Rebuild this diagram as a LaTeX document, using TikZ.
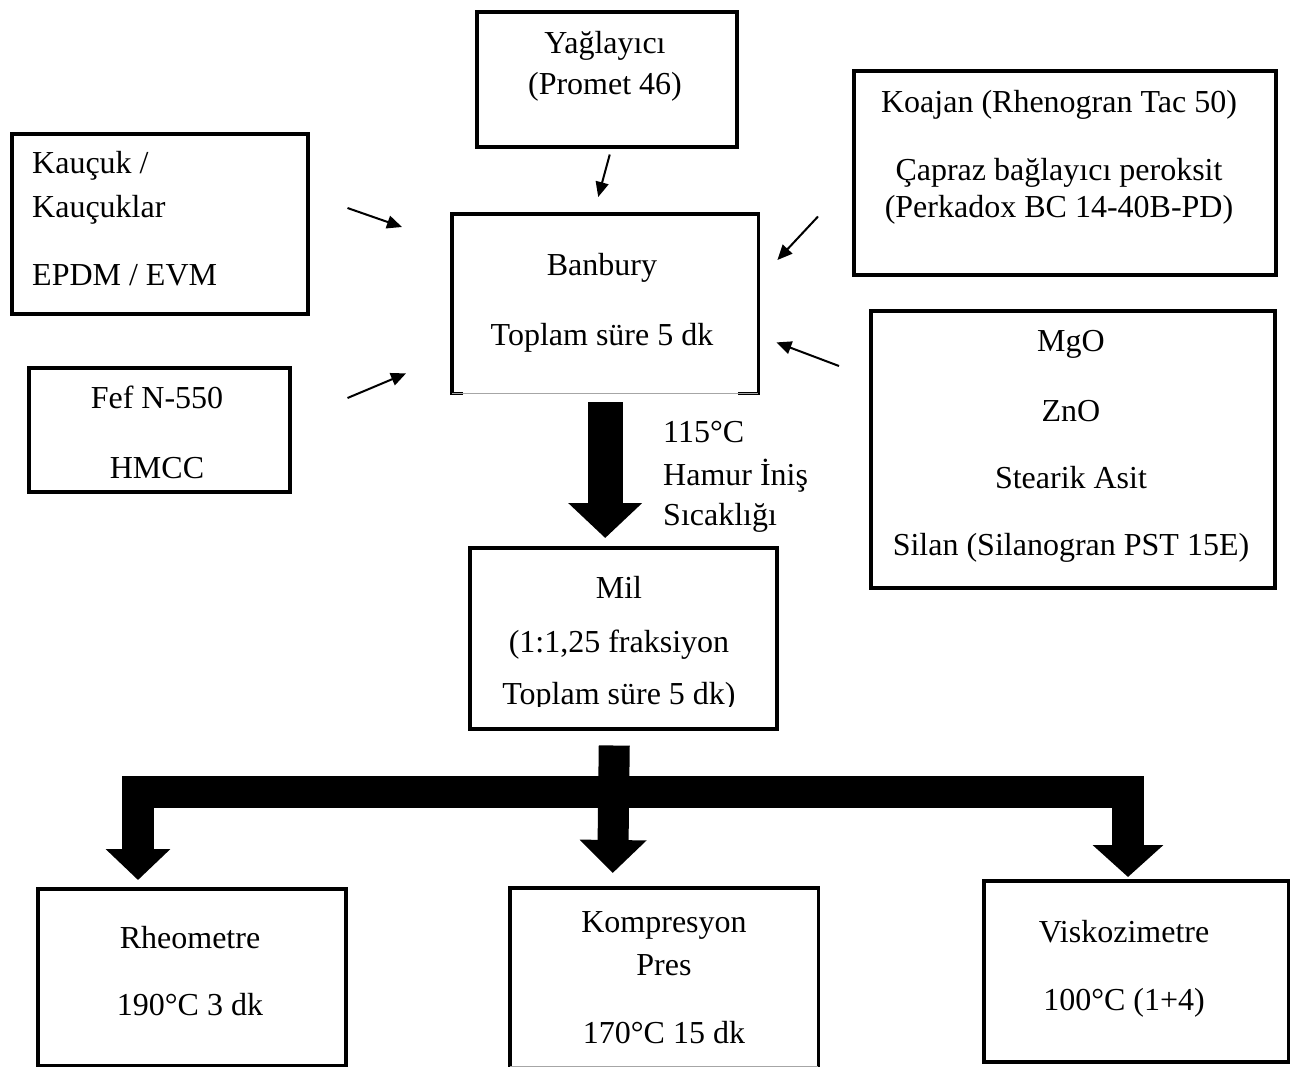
\documentclass[tikz,border=0pt]{standalone}
\usepackage{fontspec}
\setmainfont{Liberation Serif}
\usetikzlibrary{arrows.meta,positioning,calc}

\begin{document}
\begin{tikzpicture}[x=1pt,y=-1pt]
\tikzstyle{box}=[draw,line width=3.5pt,inner sep=0pt,anchor=north west]
\tikzstyle{openbox}=[inner sep=0pt,anchor=north west]
\tikzstyle{txt}=[align=center,inner sep=0pt,anchor=north,font=\fontsize{32}{40}\selectfont]
\tikzstyle{feed}=[line width=2pt,-{Triangle[length=15pt,width=13pt]}]
\tikzstyle{fat}=[line width=32pt,line join=miter]

\useasboundingbox (0,0) rectangle (1290,1066);

\node[box,minimum width=260pt,minimum height=135pt] (yag) at (475,10) {};
\node[box,minimum width=296pt,minimum height=180pt] (kau) at (10,132) {};
\node[box,minimum width=422pt,minimum height=204pt] (koa) at (852,69) {};
\node[openbox,minimum width=306pt,minimum height=179pt] (ban) at (452,214) {};
\node[box,minimum width=404pt,minimum height=277pt] (mgo) at (869,309) {};
\node[box,minimum width=261pt,minimum height=124pt] (fef) at (27,366) {};
\node[box,minimum width=307pt,minimum height=181pt] (mil) at (468,546) {};
\node[box,minimum width=308pt,minimum height=177pt] (rheo) at (36,887) {};
\node[openbox,minimum width=308pt,minimum height=184pt] (komp) at (510,888) {};
\node[box,minimum width=305pt,minimum height=181pt] (visk) at (982,879) {};

\draw[line width=3.5pt] ($(ban.south west)+(11,0)$) -- (ban.south west) -- (ban.north west)
  -- (ban.north east) -- (ban.south east) -- ++(-20,0);
\draw[gray!70,line width=1pt] (ban.south west) -- (ban.south east);
\draw[line width=3.5pt] (komp.south west) -- (komp.north west) -- (komp.north east) -- (komp.south east);
\draw[gray!70,line width=1pt] ($(komp.south west)+(0,-6)$) -- ($(komp.south east)+(0,-6)$);

\node[txt] (yagT) at (605,25) {\strut Yağlayıcı\\[1pt](Promet 46)};
\node[txt,align=left,anchor=north west] (kauT) at (32,145) {\strut Kauçuk /\\[4pt]Kauçuklar\\[28pt]EPDM / EVM};
\node[txt] (koaT) at (1059,84) {\strut Koajan (Rhenogran Tac 50)\\[28pt]Çapraz bağlayıcı peroksit\\[-3pt](Perkadox BC 14-40B-PD)};
\node[txt] (banT) at (602,247) {\strut Banbury\\[30pt]Toplam süre 5 dk};
\node[txt] (mgoT) at (1071,323) {\strut MgO\\[30pt]ZnO\\[27pt]Stearik Asit\\[27pt]Silan (Silanogran PST 15E)};
\node[txt] (fefT) at (157,380) {\strut Fef N-550\\[30pt]HMCC};
\begin{scope}
\clip (400,540) rectangle (800,706);
\node[txt] (milT) at (619,570) {\strut Mil\\[14pt](1:1,25 fraksiyon\\[12pt]Toplam süre 5 dk)};
\end{scope}
\begin{scope}
\clip (640,400) rectangle (840,533);
\node[txt,align=left,anchor=north west] (tempT) at (663,414) {\strut 115°C\\[3pt]Hamur İniş\\Sıcaklığı};
\end{scope}
\node[txt] (rheoT) at (190,920) {\strut Rheometre\\[27pt]190°C 3 dk};
\node[txt] (kompT) at (664,904) {\strut Kompresyon\\[3pt]Pres\\[28pt]170°C 15 dk};
\node[txt] (viskT) at (1124,914) {\strut Viskozimetre\\[28pt]100°C (1+4)};

\draw[feed] ($(kau.north east)+(38,76)$) -- ($(ban.north west)+(-50,13)$);
\draw[feed] ($(fef.north east)+(56,32)$) -- ($(ban.south west)+(-46,-20)$);
\draw[feed] ($(yag.south)+(3,6)$) -- ($(ban.north)+(-7,-17)$);
\draw[feed] ($(koa.south west)+(-34,-60)$) -- ($(ban.north east)+(19,46)$);
\draw[feed] ($(mgo.north west)+(-30,57)$) -- ($(ban.south east)+(18,-51)$);

\draw[fat,line width=35pt,-{Triangle[length=35pt,width=72pt]}] ($(ban.south)+(0,9)$) -- ($(ban.south |- mil.north)+(0,-8)$);

\coordinate (split) at ($(mil.south)+(-9,61)$);
\coordinate (tipL) at ($(rheo.north west)+(102,-7)$);
\coordinate (tipR) at ($(visk.north west)+(146,-2)$);
\draw[fat,{Triangle[length=31pt,width=63pt]}-{Triangle[length=32pt,width=69pt]}] (tipL) -- (tipL |- split) -- (split -| tipR) -- (tipR);
\draw[fat,line width=31pt,-{Triangle[length=33pt,width=65pt]}] ($(mil.south)+(-9,15)$) -- ($(komp.north)+(-51.5,-15)$);
\end{tikzpicture}
\end{document}
